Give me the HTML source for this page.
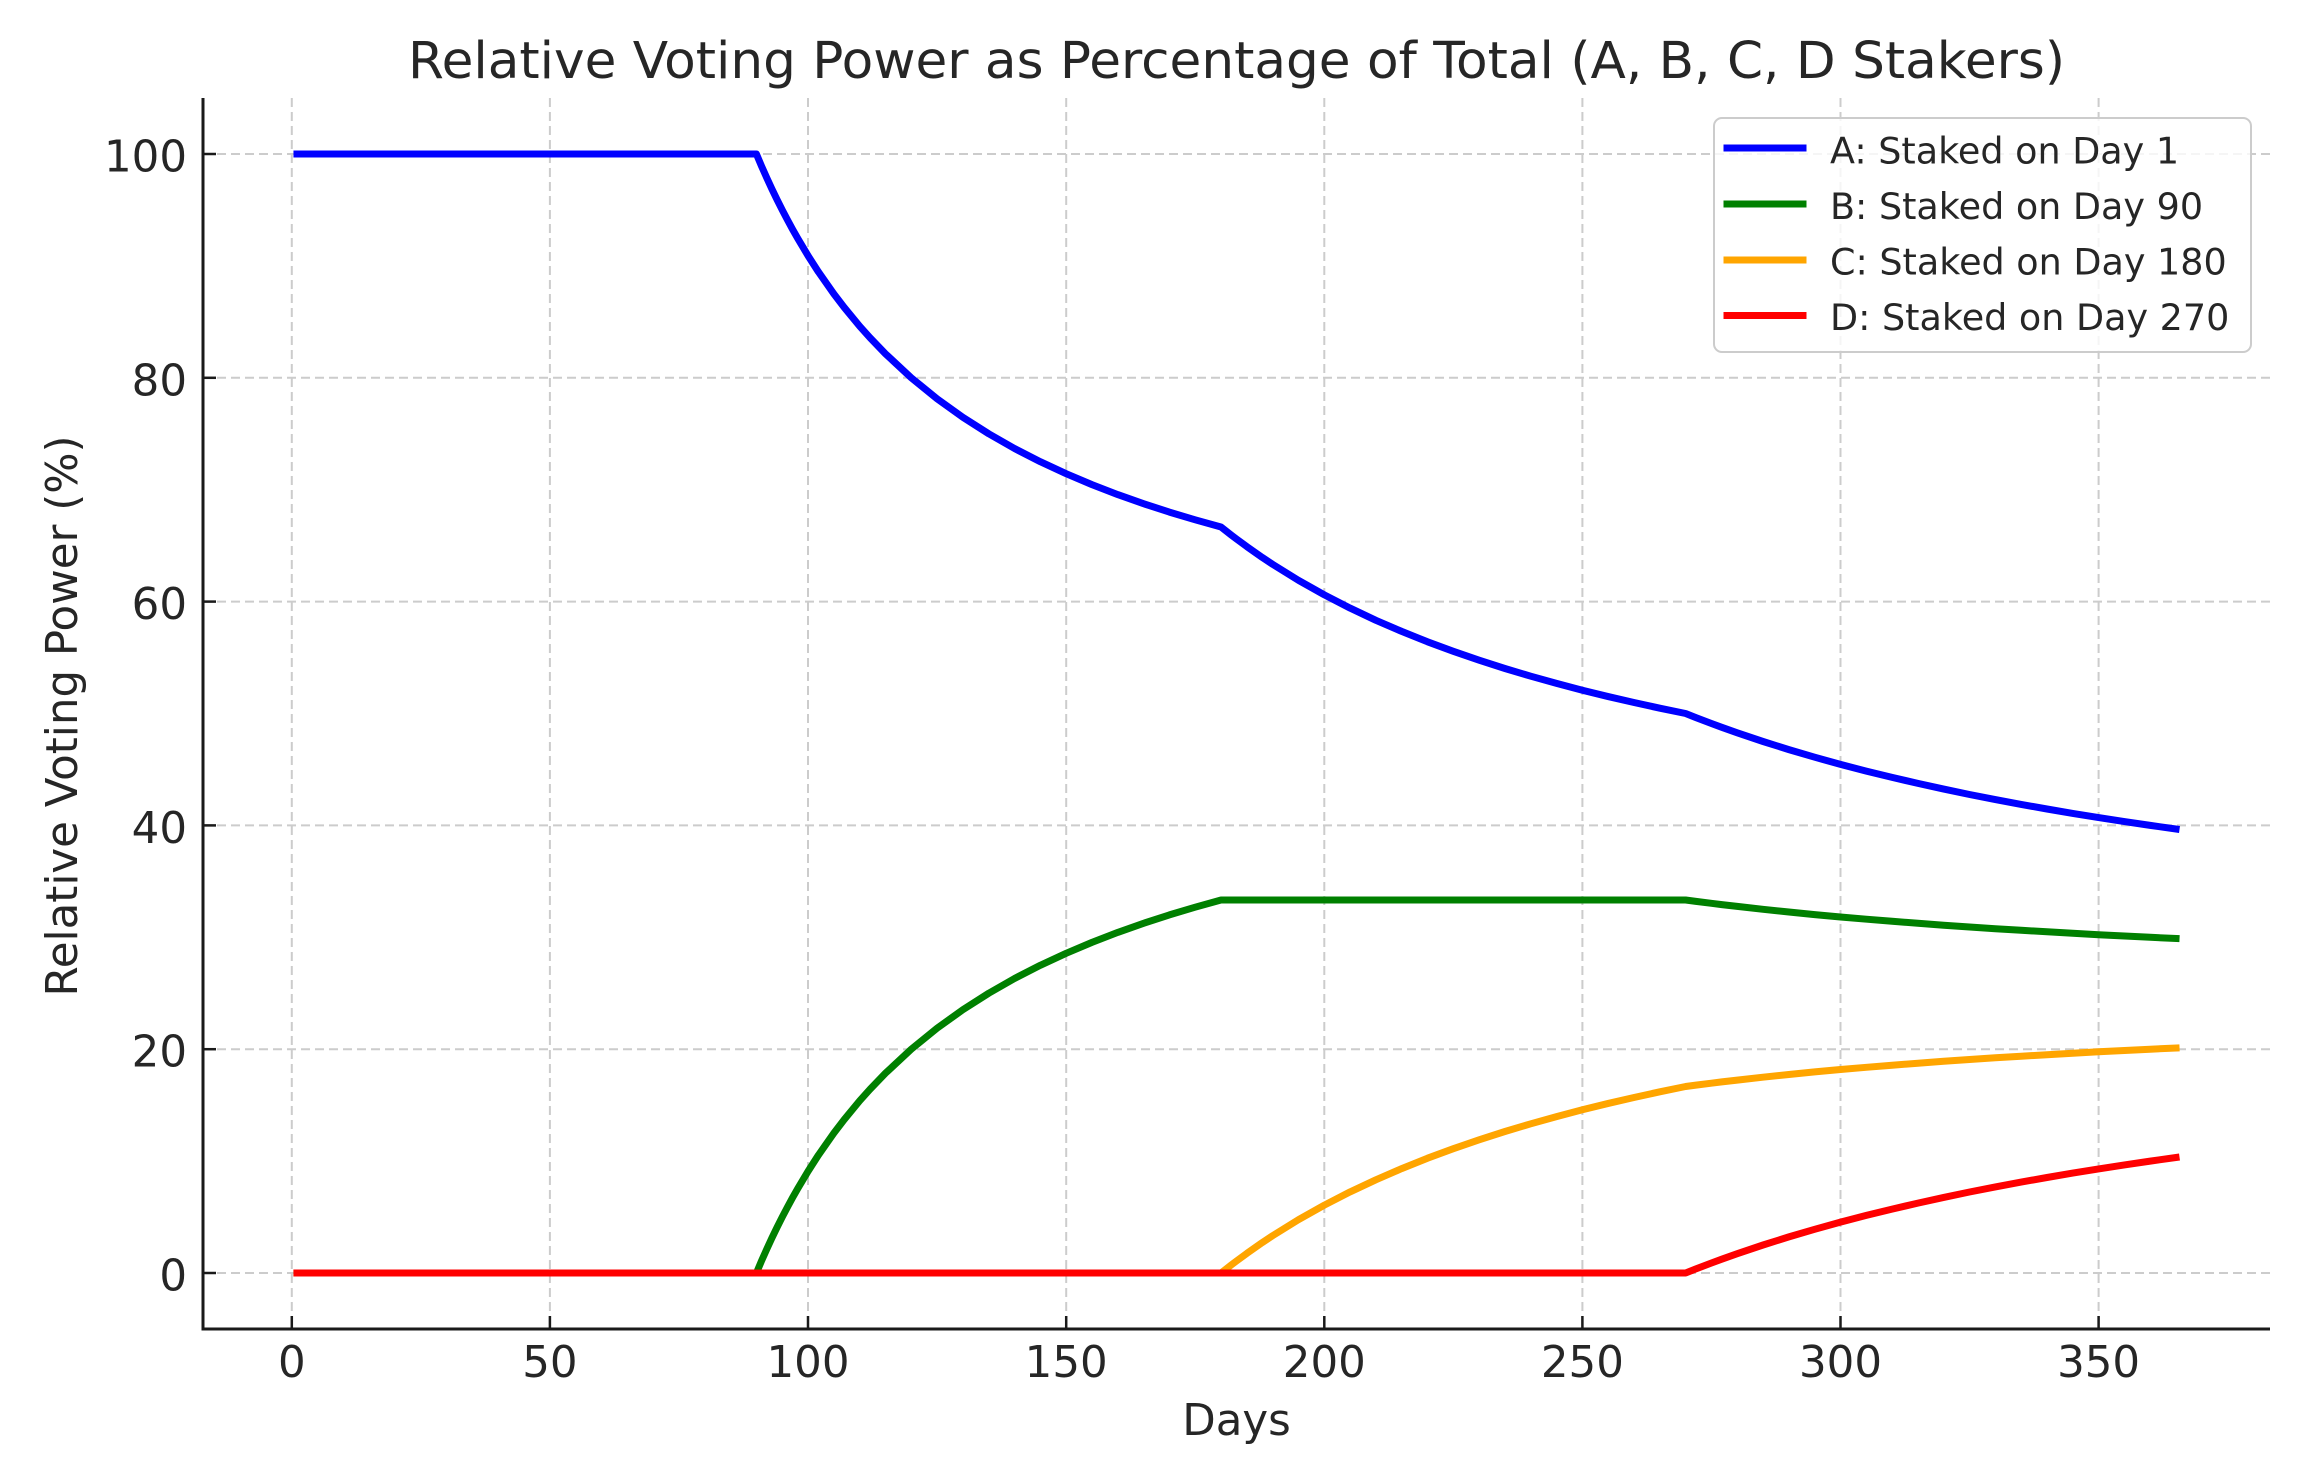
<!DOCTYPE html>
<html>
<head>
<meta charset="utf-8">
<style>
  html,body{margin:0;padding:0;background:#fff;}
  svg{display:block;}
  text{font-family:"DejaVu Sans","Liberation Sans",sans-serif;fill:#262626;}
</style>
</head>
<body>
<svg width="2304" height="1466" viewBox="0 0 2304 1466" xmlns="http://www.w3.org/2000/svg">
  <rect x="0" y="0" width="2304" height="1466" fill="#fff"/>

  <!-- Title -->
  <text x="1236.5" y="78" font-size="51" text-anchor="middle" textLength="1657" lengthAdjust="spacingAndGlyphs">Relative Voting Power as Percentage of Total (A, B, C, D Stakers)</text>

  <!-- Grid -->
  <g stroke="#cccccc" stroke-width="2" stroke-dasharray="9,5" fill="none">
    <line x1="291.8" y1="98" x2="291.8" y2="1329"/>
    <line x1="549.9" y1="98" x2="549.9" y2="1329"/>
    <line x1="808.0" y1="98" x2="808.0" y2="1329"/>
    <line x1="1066.2" y1="98" x2="1066.2" y2="1329"/>
    <line x1="1324.3" y1="98" x2="1324.3" y2="1329"/>
    <line x1="1582.4" y1="98" x2="1582.4" y2="1329"/>
    <line x1="1840.5" y1="98" x2="1840.5" y2="1329"/>
    <line x1="2098.6" y1="98" x2="2098.6" y2="1329"/>
    <line x1="203" y1="154" x2="2270" y2="154"/>
    <line x1="203" y1="377.8" x2="2270" y2="377.8"/>
    <line x1="203" y1="601.6" x2="2270" y2="601.6"/>
    <line x1="203" y1="825.4" x2="2270" y2="825.4"/>
    <line x1="203" y1="1049.2" x2="2270" y2="1049.2"/>
    <line x1="203" y1="1273" x2="2270" y2="1273"/>
  </g>

  <!-- Series -->
  <g fill="none" stroke-width="7" stroke-linejoin="round" stroke-linecap="square">
    <polyline stroke="#0000ff" points="296.96,154 756.41,154 761.57,166.2 766.73,177.8 771.89,188.97 777.06,199.7 782.22,209.95 787.38,219.8 792.54,229.3 797.71,238.4 808.03,255.7 818.35,271.8 833.84,293.9 844.17,307.4 859.65,326.2 869.98,337.7 885.46,353.8 911.28,377.8 937.09,398.8 962.90,417.3 988.71,433.75 1014.52,448.5 1040.33,461.7 1066.15,473.7 1091.96,484.6 1117.77,494.6 1143.58,503.7 1169.39,512.1 1195.20,519.8 1221.01,527.0 1231.34,535.1 1236.5,539.0 1246.83,546.6 1262.31,557.45 1272.64,564.3 1298.45,580.3 1324.26,594.8 1350.07,608.1 1375.88,620.3 1401.69,631.4 1427.51,641.8 1453.32,651.3 1479.13,660.2 1504.94,668.5 1530.75,676.2 1556.56,683.4 1582.38,690.2 1608.19,696.55 1634.00,702.5 1659.81,708.2 1685.62,713.5 1695.95,717.6 1711.43,723.5 1721.76,727.3 1737.24,732.8 1763.06,741.5 1788.87,749.6 1814.68,757.2 1840.49,764.4 1866.30,771.1 1892.11,777.4 1917.92,783.4 1943.74,789.1 1969.55,794.5 1995.36,799.6 2021.17,804.4 2046.98,809.0 2072.79,813.4 2098.61,817.6 2124.42,821.6 2150.23,825.4 2176.04,829.0"/>
    <polyline stroke="#008000" points="296.96,1273 756.41,1273 761.57,1260.8 766.73,1249.2 771.89,1238.03 777.06,1227.3 782.22,1217.05 787.38,1207.2 792.54,1197.7 797.71,1188.6 808.03,1171.3 818.35,1155.2 833.84,1133.1 844.17,1119.6 859.65,1100.8 869.98,1089.3 885.46,1073.2 911.28,1049.2 937.09,1028.2 962.90,1009.7 988.71,993.25 1014.52,978.5 1040.33,965.3 1066.15,953.3 1091.96,942.4 1117.77,932.4 1143.58,923.3 1169.39,914.9 1195.20,907.2 1221.01,900 1685.62,900 1695.95,901.4 1711.43,903.3 1721.76,904.6 1737.24,906.4 1763.06,909.3 1788.87,912.0 1814.68,914.6 1840.49,917.0 1866.30,919.2 1892.11,921.3 1917.92,923.3 1943.74,925.2 1969.55,927.0 1995.36,928.7 2021.17,930.3 2046.98,931.8 2072.79,933.3 2098.61,934.7 2124.42,936.0 2150.23,937.3 2176.04,938.5"/>
    <polyline stroke="#ffa500" points="296.96,1273 1221.01,1273 1231.34,1264.9 1236.5,1261.0 1246.83,1253.4 1262.31,1242.55 1272.64,1235.7 1298.45,1219.7 1324.26,1205.2 1350.07,1191.9 1375.88,1179.8 1401.69,1168.6 1427.51,1158.2 1453.32,1148.7 1479.13,1139.8 1504.94,1131.5 1530.75,1123.8 1556.56,1116.6 1582.38,1109.8 1608.19,1103.45 1634.00,1097.5 1659.81,1091.8 1685.62,1086.5 1695.95,1085.1 1711.43,1083.2 1721.76,1081.9 1737.24,1080.1 1763.06,1077.2 1788.87,1074.5 1814.68,1071.9 1840.49,1069.5 1866.30,1067.3 1892.11,1065.2 1917.92,1063.2 1943.74,1061.3 1969.55,1059.5 1995.36,1057.8 2021.17,1056.2 2046.98,1054.7 2072.79,1053.2 2098.61,1051.8 2124.42,1050.5 2150.23,1049.2 2176.04,1048.0"/>
    <polyline stroke="#ff0000" points="296.96,1273 1685.62,1273 1695.95,1268.9 1711.43,1263.0 1721.76,1259.2 1737.24,1253.7 1763.06,1245.0 1788.87,1236.9 1814.68,1229.3 1840.49,1222.1 1866.30,1215.4 1892.11,1209.1 1917.92,1203.1 1943.74,1197.4 1969.55,1192.0 1995.36,1186.9 2021.17,1182.1 2046.98,1177.5 2072.79,1173.1 2098.61,1168.9 2124.42,1164.9 2150.23,1161.1 2176.04,1157.5"/>
  </g>

  <!-- Spines -->
  <g stroke="#1a1a1a" stroke-width="3" fill="none">
    <line x1="203" y1="98" x2="203" y2="1330.5"/>
    <line x1="201.5" y1="1329" x2="2270" y2="1329"/>
  </g>

  <!-- Ticks (inward) -->
  <g stroke="#1a1a1a" stroke-width="2.5">
    <line x1="203" y1="154" x2="216" y2="154"/>
    <line x1="203" y1="377.8" x2="216" y2="377.8"/>
    <line x1="203" y1="601.6" x2="216" y2="601.6"/>
    <line x1="203" y1="825.4" x2="216" y2="825.4"/>
    <line x1="203" y1="1049.2" x2="216" y2="1049.2"/>
    <line x1="203" y1="1273" x2="216" y2="1273"/>
    <line x1="291.8" y1="1329" x2="291.8" y2="1316"/>
    <line x1="549.9" y1="1329" x2="549.9" y2="1316"/>
    <line x1="808.0" y1="1329" x2="808.0" y2="1316"/>
    <line x1="1066.2" y1="1329" x2="1066.2" y2="1316"/>
    <line x1="1324.3" y1="1329" x2="1324.3" y2="1316"/>
    <line x1="1582.4" y1="1329" x2="1582.4" y2="1316"/>
    <line x1="1840.5" y1="1329" x2="1840.5" y2="1316"/>
    <line x1="2098.6" y1="1329" x2="2098.6" y2="1316"/>
  </g>

  <!-- Y tick labels -->
  <g font-size="43.5" text-anchor="end">
    <text x="187" y="171.5">100</text>
    <text x="187" y="395.3">80</text>
    <text x="187" y="619.1">60</text>
    <text x="187" y="842.9">40</text>
    <text x="187" y="1066.7">20</text>
    <text x="187" y="1290.5">0</text>
  </g>

  <!-- X tick labels -->
  <g font-size="43.5" text-anchor="middle">
    <text x="291.8" y="1377">0</text>
    <text x="549.9" y="1377">50</text>
    <text x="808.0" y="1377">100</text>
    <text x="1066.2" y="1377">150</text>
    <text x="1324.3" y="1377">200</text>
    <text x="1582.4" y="1377">250</text>
    <text x="1840.5" y="1377">300</text>
    <text x="2098.6" y="1377">350</text>
  </g>

  <!-- Axis labels -->
  <text x="1236.5" y="1435" font-size="43.5" text-anchor="middle">Days</text>
  <text transform="translate(77,716) rotate(-90)" font-size="43.5" text-anchor="middle">Relative Voting Power (%)</text>

  <!-- Legend -->
  <rect x="1714" y="118" width="537" height="234" rx="8" ry="8" fill="#ffffff" fill-opacity="0.8" stroke="#cccccc" stroke-width="2"/>
  <g stroke-width="7" stroke-linecap="square">
    <line x1="1727" y1="148" x2="1803" y2="148" stroke="#0000ff"/>
    <line x1="1727" y1="204" x2="1803" y2="204" stroke="#008000"/>
    <line x1="1727" y1="260" x2="1803" y2="260" stroke="#ffa500"/>
    <line x1="1727" y1="315.5" x2="1803" y2="315.5" stroke="#ff0000"/>
  </g>
  <g font-size="36.5">
    <text x="1830" y="163.5">A: Staked on Day 1</text>
    <text x="1830" y="219">B: Staked on Day 90</text>
    <text x="1830" y="274.5">C: Staked on Day 180</text>
    <text x="1830" y="330">D: Staked on Day 270</text>
  </g>
</svg>
</body>
</html>
